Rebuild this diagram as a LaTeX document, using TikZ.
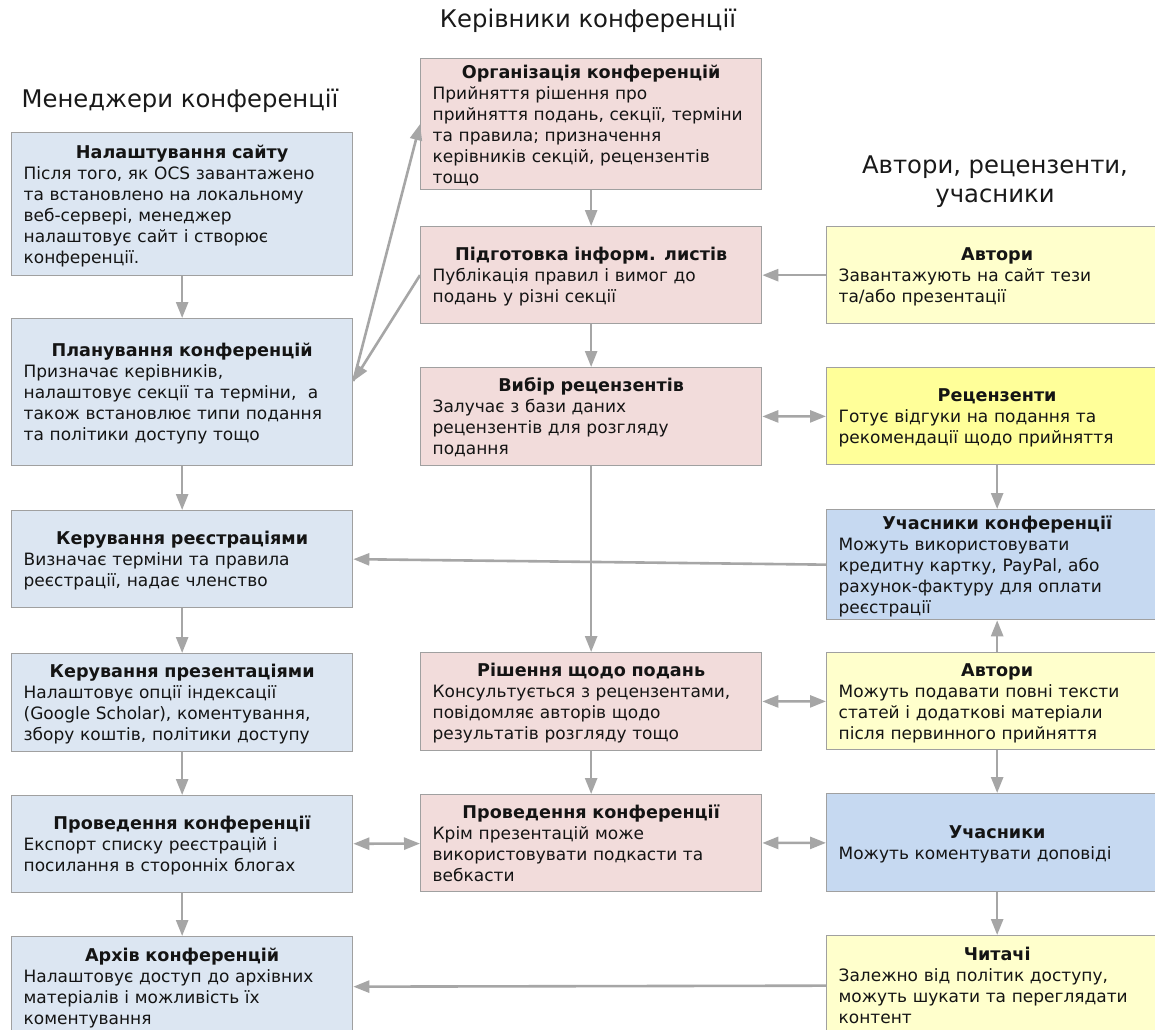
\documentclass[tikz,border=0pt]{standalone}
\usepackage{fontspec}
\setmainfont{DejaVu Sans}
\usetikzlibrary{arrows.meta}
\definecolor{lblue}{HTML}{DCE6F2}
\definecolor{mpink}{HTML}{F2DCDB}
\definecolor{ryel}{HTML}{FFFFCC}
\definecolor{ryeltwo}{HTML}{FFFF99}
\definecolor{rblue}{HTML}{C6D9F1}
\definecolor{edgegray}{HTML}{A0A0A0}
\definecolor{arrgray}{HTML}{A6A6A6}
\newcommand\cardtext[2]{\noindent\begin{tabular}{@{}l@{}}\rule{0pt}{19.7pt}\makebox[317pt][c]{\fontsize{17.6}{21}\bfseries #1}\\#2\end{tabular}}
\tikzset{
  card/.style={draw=edgegray, line width=1.3pt, minimum width=341pt, text width=317pt,
    inner xsep=12pt, inner ysep=0pt, anchor=north west,
    font=\fontsize{17}{21}\selectfont, text=black!92},
  hdr/.style={font=\fontsize{24.3}{29}\selectfont, inner sep=0pt, text=black!90},
  flow/.style={draw=arrgray, line width=2.6pt, -{Triangle[length=16pt,width=12pt]}},
  both/.style={draw=arrgray, line width=2.6pt, {Triangle[length=16pt,width=12pt]}-{Triangle[length=16pt,width=12pt]}},
}
\begin{document}
\begin{tikzpicture}[x=1pt,y=-1pt]
\clip (0,0) rectangle (1155,1029);
\fill[white] (0,0) rectangle (1155,1029);

% headers
\node[hdr] (h1) at (180,101) {Менеджери конференції};
\node[hdr] (h2) at (588,21) {Керівники конференції};
\node[hdr, align=center] (h3) at (995,182) {Автори, рецензенти,\\учасники};

% left column
\node[card, fill=lblue, minimum height=143pt] (L1) at (11,132)
  {\cardtext{Налаштування сайту}{Після того, як OCS завантажено\\та встановлено на локальному\\веб-сервері, менеджер\\налаштовує сайт і створює\\конференції.}};
\node[card, fill=lblue, minimum height=147pt] (L2) at (11,318)
  {\cardtext{Планування конференцій}{Призначає керівників,\\налаштовує секції та терміни,~ а\\також встановлює типи подання\\та політики доступу тощо}};
\node[card, fill=lblue, minimum height=97pt] (L3) at (11,510)
  {\cardtext{Керування реєстраціями}{Визначає терміни та правила\\реєстрації, надає членство}};
\node[card, fill=lblue, minimum height=98pt] (L4) at (11,653)
  {\cardtext{Керування презентаціями}{Налаштовує опції індексації\\(Google Scholar), коментування,\\збору коштів, політики доступу}};
\node[card, fill=lblue, minimum height=97pt] (L5) at (11,795)
  {\cardtext{Проведення конференції}{Експорт списку реєстрацій і\\посилання в сторонніх блогах}};
\node[card, fill=lblue, minimum height=100pt] (L6) at (11,936)
  {\cardtext{Архів конференцій}{Налаштовує доступ до архівних\\матеріалів і можливість їх\\коментування}};

% middle column
\node[card, fill=mpink, minimum height=129pt] (M1) at (420,58)
  {\cardtext{Організація конференцій}{Прийняття рішення про\\прийняття подань, секції, терміни\\та правила; призначення\\керівників секцій, рецензентів\\тощо}};
\node[card, fill=mpink, minimum height=97pt] (M2) at (420,226)
  {\cardtext{Підготовка інформ. листів}{Публікація правил і вимог до\\подань у різні секції}};
\node[card, fill=mpink, minimum height=98pt] (M3) at (420,367)
  {\cardtext{Вибір рецензентів}{Залучає з бази даних\\рецензентів для розгляду\\подання}};
\node[card, fill=mpink, minimum height=98pt] (M4) at (420,652)
  {\cardtext{Рішення щодо подань}{Консультується з рецензентами,\\повідомляє авторів щодо\\результатів розгляду тощо}};
\node[card, fill=mpink, minimum height=97pt] (M5) at (420,794)
  {\cardtext{Проведення конференції}{Крім презентацій може\\використовувати подкасти та\\вебкасти}};

% right column
\node[card, fill=ryel, minimum height=97pt] (R1) at (826,226)
  {\cardtext{Автори}{Завантажують на сайт тези\\та/або презентації}};
\node[card, fill=ryeltwo, minimum height=97pt] (R2) at (826,367)
  {\cardtext{Рецензенти}{Готує відгуки на подання та\\рекомендації щодо прийняття}};
\node[card, fill=rblue, minimum height=110pt] (R3) at (826,509)
  {\cardtext{Учасники конференції}{Можуть використовувати\\кредитну картку, PayPal, або\\рахунок-фактуру для оплати\\реєстрації}};
\node[card, fill=ryel, minimum height=97pt] (R4) at (826,652)
  {\cardtext{Автори}{Можуть подавати повні тексти\\статей і додаткові матеріали\\після первинного прийняття}};
\node[card, fill=rblue, minimum height=98pt] (R5) at (826,793)
  {\cardtext{Учасники}{Можуть коментувати доповіді}};
\node[card, fill=ryel, minimum height=100pt] (R6) at (826,935)
  {\cardtext{Читачі}{Залежно від політик доступу,\\можуть шукати та переглядати\\контент}};

% left column flow
\draw[flow] (L1) -- (L2);
\draw[flow] (L2) -- (L3);
\draw[flow] (L3) -- (L4);
\draw[flow] (L4) -- (L5);
\draw[flow] (L5) -- (L6);

% middle column flow
\draw[flow] (M1) -- (M2);
\draw[flow] (M2) -- (M3);
\draw[flow] (M3) -- (M4);
\draw[flow] (M4) -- (M5);

% right column flow
\draw[flow] (R2) -- (R3);
\draw[flow] (R4) -- (R3);
\draw[flow] (R4) -- (R5);
\draw[flow] (R5) -- (R6);

% diagonals
\coordinate (P) at ([yshift=11pt]L2.east);
\draw[flow] (M2.west) -- (P);
\draw[flow] (P) -- (M1.west);

% horizontal links
\draw[flow] (R1) -- (M2);
\draw[both] (M3) -- (R2);
\draw[flow] (R3.west) -- (L3.east);
\draw[both] (M4) -- (R4);
\draw[both] (L5) -- (M5);
\draw[both] (M5) -- (R5);
\draw[flow] (R6.west) -- (L6.east);
\end{tikzpicture}
\end{document}
